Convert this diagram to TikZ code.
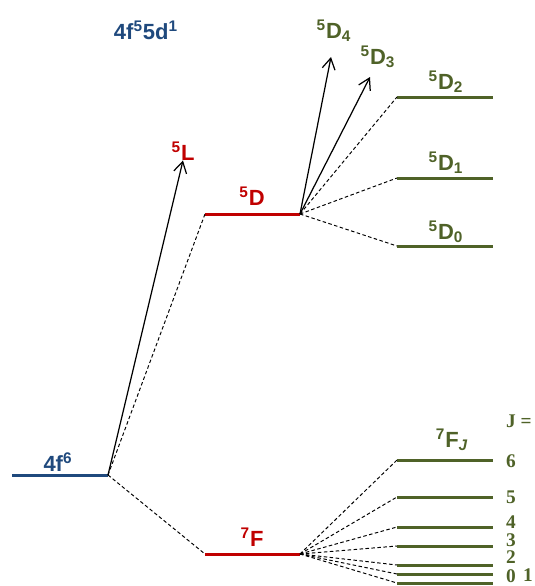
\documentclass[tikz,border=0pt]{standalone}
\usepackage{fontspec}
\setmainfont{Liberation Sans}
\newfontfamily\numfont{Liberation Serif}
\usetikzlibrary{arrows.meta}
\definecolor{azul}{RGB}{31,73,125}
\definecolor{rojo}{RGB}{192,0,0}
\definecolor{verde}{RGB}{79,98,40}
\tikzset{
  nivel/.style={line width=1.7pt},
  salto/.style={dashed, dash pattern=on 2pt off 1.4pt, line width=0.55pt},
  etiq/.style={font=\fontsize{12.5}{14}\selectfont\bfseries, inner sep=0pt},
  jnum/.style={font=\numfont\fontsize{11}{12}\selectfont\bfseries, text=verde, inner sep=0pt}
}
\begin{document}
\begin{tikzpicture}[x=0.02cm, y=-0.02cm, >={Straight Barb[length=2.2mm,width=2.6mm]}]

    \useasboundingbox (0,0) rectangle (535,586);

    % 1. Configuraciones
    \node[etiq, text=azul] (conf) at (146,30) {4f\textsuperscript{5}5d\textsuperscript{1}};
    \node[etiq, text=azul] (fseis) at (58,462) {4f\textsuperscript{6}};
    \coordinate (gI) at (12,475);
    \coordinate (gD) at (108,475);
    \draw[nivel, azul] (gI) -- (gD);

    % 2. Terminos 5D y 7F
    \coordinate (dI) at (205,214);
    \coordinate (dD) at (300,214);
    \coordinate (fI) at (205,554);
    \coordinate (fD) at (300,554);
    \draw[nivel, rojo] (dI) -- (dD);
    \draw[nivel, rojo] (fI) -- (fD);
    \node[etiq, text=rojo] (tD) at (252,196) {\textsuperscript{5}D};
    \node[etiq, text=rojo] (tF) at (252,537) {\textsuperscript{7}F};
    \node[etiq, text=rojo] (tL) at (183,151) {\textsuperscript{5}L};

    % 3. Flecha a 5L
    \draw[->, line width=0.7pt] (gD) -- (tL.south);
    \draw[salto] (gD) -- (dI);
    \draw[salto] (gD) -- (fI);

    % 4. Niveles 5D_J
    \node[etiq, text=verde] (d4) at (334,31) {\textsuperscript{5}D\textsubscript{4}};
    \node[etiq, text=verde] (d3) at (378,57) {\textsuperscript{5}D\textsubscript{3}};
    \draw[->, line width=0.7pt] (dD) -- (331,57);
    \draw[->, line width=0.7pt] (dD) -- (370,77);
    \foreach \j/\y/\ty in {2/97/82, 1/178/163, 0/246/232} {
      \coordinate (dj\j) at (397,\y);
      \draw[nivel, verde] (dj\j) -- (493,\y);
      \draw[salto] (dD) -- (dj\j);
      \node[etiq, text=verde] (ed\j) at (446,\ty) {\textsuperscript{5}D\textsubscript{\j}};
    }

    % 5. Niveles 7F_J
    \node[etiq, text=verde] (fJ) at (452,440) {\textsuperscript{7}F\textsubscript{\itshape J}};
    \node[jnum] (jigual) at (519,421) {J =};
    \foreach \j/\y in {6/460, 5/497, 4/527, 3/546, 2/565, 1/574, 0/583} {
      \coordinate (fj\j) at (397,\y);
      \draw[nivel, verde] (fj\j) -- (493,\y);
      \draw[salto] (fD) -- (fj\j);
    }
    \foreach \j/\x/\y in {6/511/461, 5/511/497, 4/511/522, 3/511/540, 2/511/557, 0/511/576, 1/528/575}
      \node[jnum] (n\j) at (\x,\y) {\j};

\end{tikzpicture}
\end{document}
